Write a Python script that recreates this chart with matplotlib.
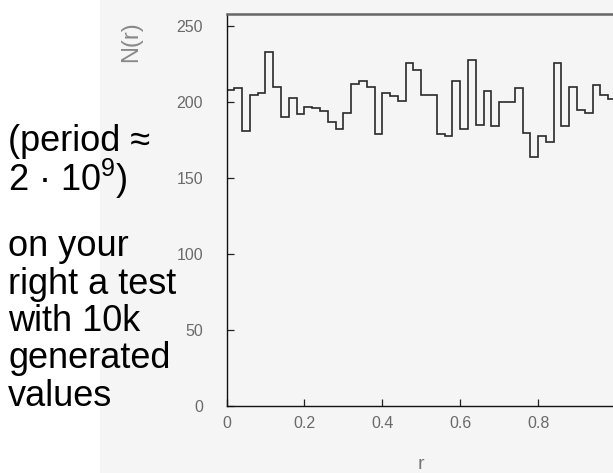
import matplotlib
matplotlib.use("Agg")
import matplotlib.pyplot as plt
import numpy as np
from matplotlib.patches import Rectangle

plt.rcParams['font.family'] = ['Liberation Sans', 'DejaVu Sans']

# histogram of 10k generated values, 50 bins on [0, 1]
counts = [208, 209, 181, 205, 206, 233, 210, 190, 203, 192,
          197, 196, 194, 187, 182, 193, 212, 214, 210, 179,
          206, 204, 201, 226, 221, 205, 205, 179, 178, 214,
          182, 228, 185, 207, 184, 200, 200, 209, 180, 164,
          178, 174, 226, 184, 210, 195, 193, 211, 205, 202]
edges = np.linspace(0, 1, len(counts) + 1)

xticks = [0, 0.2, 0.4, 0.6, 0.8]
xticklabels = ['0', '0.2', '0.4', '0.6', '0.8']
yticks = [0, 50, 100, 150, 200, 250]

side_text = ["(period \u2248", "2 \u00b7 10$^\\mathregular{9}$)",
             "on your", "right a test", "with 10k", "generated", "values"]
side_y = [151, 191, 256, 294, 331, 368, 406]

W, H = 613, 473
fig = plt.figure(figsize=(W / 100, H / 100), dpi=100)
fig.patch.set_facecolor('white')

# scanned plot area is slightly off-white
fig.add_artist(Rectangle((100 / W, 0), 1, 1, transform=fig.transFigure,
                         facecolor='#f5f5f5', edgecolor='none', zorder=0))

ax = fig.add_axes([226.5 / W, 1 - 406 / H, 389.5 / W, 392 / H])
ax.patch.set_alpha(0)

ax.stairs(counts, edges, baseline=None, color='#2a2a2a', linewidth=1.2)

ax.set_xlim(0, 1)
ax.set_ylim(0, 258)
ax.set_xticks(xticks)
ax.set_xticklabels(xticklabels)
ax.set_yticks(yticks)

ax.tick_params(direction='in', length=5, width=0.9, color='#222222',
               labelcolor='#6a6a6a', labelsize=11.5)
ax.tick_params(axis='y', pad=17)
ax.tick_params(axis='x', pad=7)

for s in ['left', 'bottom']:
    ax.spines[s].set_color('#111111')
    ax.spines[s].set_linewidth(1.0)
ax.spines['top'].set_color('#666666')
ax.spines['top'].set_linewidth(1.8)
ax.spines['right'].set_visible(False)

ax.set_xlabel('r', color='#777777', fontsize=14, labelpad=18)
fig.text(131 / W, 1 - 42 / H, 'N(r)', rotation=90, color='#888888',
         fontsize=17, ha='center', va='center')

for t, y in zip(side_text, side_y):
    fig.text(8 / W, 1 - y / H, t, fontsize=26, color='black',
             ha='left', va='baseline')

fig.savefig('out.png', dpi=100)
